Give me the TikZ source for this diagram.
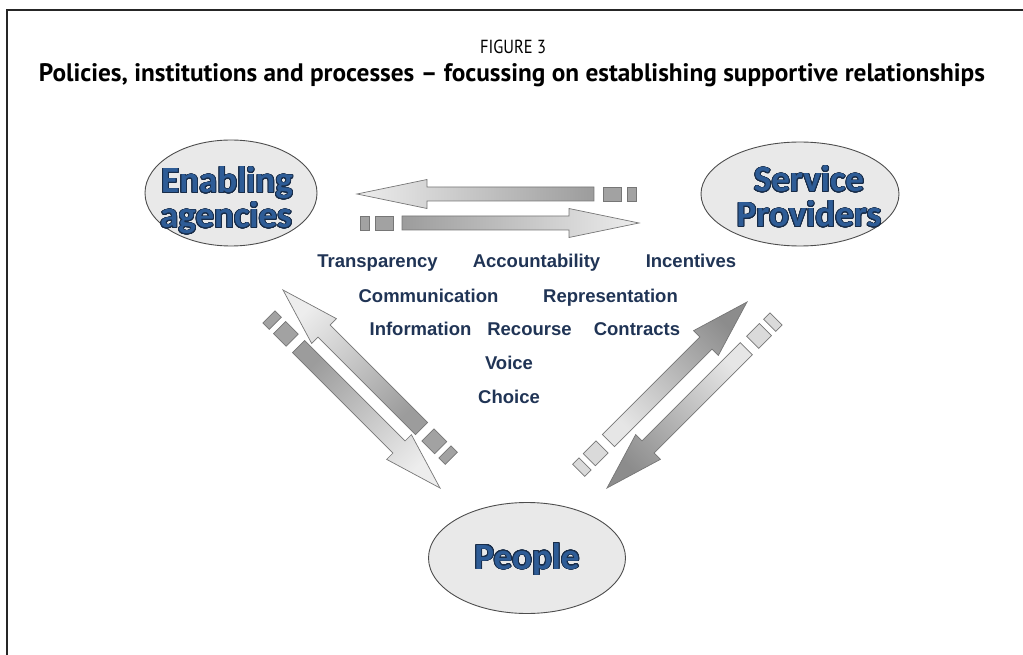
\documentclass[tikz,border=0pt]{standalone}
\usepackage{fontspec}
\setmainfont{Liberation Sans}
\newfontfamily\titlefont{PT Sans}
\newfontfamily\labelfont{Carlito}
\usepackage{contour}
\contourlength{0.85pt}
\contournumber{24}
\usetikzlibrary{shapes.geometric}
\definecolor{bubblefill}{HTML}{E9E9E9}
\definecolor{bubbleline}{HTML}{4D4D4D}
\definecolor{labelblue}{RGB}{46,92,150}
\definecolor{labeledge}{RGB}{24,44,72}
\definecolor{navy}{RGB}{32,52,85}
\definecolor{arrdark}{HTML}{9C9C9C}
\definecolor{arrlight}{HTML}{EDEDED}
\definecolor{arrmid}{HTML}{A2A2A2}
\definecolor{arrdarkR}{HTML}{8C8C8C}
\definecolor{arrlightR}{HTML}{E6E6E6}
\definecolor{arrsqR}{HTML}{DADADA}
\definecolor{arrline}{HTML}{767676}
\newdimen\bax \newdimen\bay \newdimen\bbx \newdimen\bby
% #1 tail, #2 tip, #3 shaft half width, #4 head half width, #5 head length,
% #6 tail colour, #7 tip colour, #8 colour of the dashes
\newcommand\blockarrow[8]{%
  \pgfextractx{\bax}{\pgfpointanchor{#1}{center}}%
  \pgfextracty{\bay}{\pgfpointanchor{#1}{center}}%
  \pgfextractx{\bbx}{\pgfpointanchor{#2}{center}}%
  \pgfextracty{\bby}{\pgfpointanchor{#2}{center}}%
  \pgfmathsetmacro\bang{atan2(\bby-\bay,\bbx-\bax)}%
  \pgfmathsetmacro\bshang{\bang-90}%
  \pgfmathsetmacro\blen{veclen(\bbx-\bax,\bby-\bay)}%
  \begin{scope}[shift={(#1)},rotate=\bang]
    \draw[arrowedge,bottom color=#6,top color=#7,shading angle=\bshang]
      (0,-#3) -- ({\blen-#5},-#3) -- ({\blen-#5},-#4) -- (\blen,0)
      -- ({\blen-#5},#4) -- ({\blen-#5},#3) -- (0,#3) -- cycle;
    \draw[arrowedge,fill=#8] (-9,-#3) rectangle (-27,#3);
    \draw[arrowedge,fill=#8] (-33,-#3) rectangle (-42,#3);
  \end{scope}}
\begin{document}
\begin{tikzpicture}[x=1pt,y=1pt,
  frameline/.style={line width=1.6pt,draw=black!85},
  bubble/.style={ellipse,draw=bubbleline,line width=0.9pt,fill=bubblefill,inner sep=0pt},
  bubbletext/.style={anchor=base,inner sep=0pt,text=labelblue,font=\labelfont\bfseries\fontsize{37}{37}\selectfont},
  keyword/.style={anchor=base,inner sep=0pt,text=navy,font=\bfseries\fontsize{18.5}{20}\selectfont},
  arrowedge/.style={draw=arrline,line width=0.7pt,line join=miter}]
\useasboundingbox (0,0) rectangle (1023,-655);
% frame
\coordinate (fbl) at (7,-656);
\coordinate (ftl) at (7,-10);
\coordinate (ftr) at (1024,-10);
\draw[frameline] (fbl) -- (ftl) -- (ftr);
% titles
\node[anchor=base,inner sep=0pt] (fig) at (513,-54)
  {\resizebox{66pt}{13.5pt}{\titlefont FIGURE 3}};
\node[anchor=base,inner sep=0pt] (title) at (512,-82)
  {\resizebox{946pt}{!}{\titlefont\bfseries Policies, institutions and processes – focussing on establishing supportive relationships}};
% bubbles
\node[bubble,minimum width=172pt,minimum height=106pt] (ea) at (231,-193) {};
\node[bubble,minimum width=198pt,minimum height=104pt] (sp) at (800,-194) {};
\node[bubble,minimum width=197pt,minimum height=111pt] (pp) at (527,-558) {};
\node[bubbletext] (ea1) at (227,-193) {\contour{labeledge}{Enabling}};
\node[bubbletext] (ea2) at (226,-228) {\contour{labeledge}{agencies}};
\node[bubbletext] (sp1) at (809,-192) {\contour{labeledge}{Service}};
\node[bubbletext] (sp2) at (809,-227) {\contour{labeledge}{Providers}};
\node[bubbletext] (pp1) at (527,-569) {\contour{labeledge}{People}};
% key words
\node[keyword] (k1) at (377.5,-268) {Transparency};
\node[keyword] (k2) at (536.5,-268) {Accountability};
\node[keyword] (k3) at (691,-268) {Incentives};
\node[keyword] (k4) at (428.5,-302) {Communication};
\node[keyword] (k5) at (610.5,-302) {Representation};
\node[keyword] (k6) at (420.5,-335) {Information};
\node[keyword] (k7) at (529.5,-335) {Recourse};
\node[keyword] (k8) at (637,-335) {Contracts};
\node[keyword] (k9) at (509,-369) {Voice};
\node[keyword] (k10) at (509,-403) {Choice};
% arrow ends
\coordinate (h1tail) at (594,-194);
\coordinate (h1tip) at (357,-194);
\coordinate (h2tail) at (402,-223);
\coordinate (h2tip) at (639,-223);
\coordinate (atail) at (421.6,-428.6);
\coordinate (atip) at (283,-290);
\coordinate (btail) at (298.6,-346.6);
\coordinate (btip) at (440,-488);
\coordinate (ctail) at (608.4,-440.6);
\coordinate (ctip) at (747,-302);
\coordinate (dtail) at (746.3,-348.7);
\coordinate (dtip) at (607,-488);
\blockarrow{h1tail}{h1tip}{7}{14.5}{70}{arrdark}{arrlight}{arrmid}
\blockarrow{h2tail}{h2tip}{7}{14.5}{70}{arrdark}{arrlight}{arrmid}
\blockarrow{atail}{atip}{8.5}{17.5}{58}{arrdark}{arrlight}{arrmid}
\blockarrow{btail}{btip}{8.5}{17.5}{58}{arrdark}{arrlight}{arrmid}
\blockarrow{ctail}{ctip}{8.5}{17.5}{58}{arrlightR}{arrdarkR}{arrsqR}
\blockarrow{dtail}{dtip}{8.5}{17.5}{58}{arrlightR}{arrdarkR}{arrsqR}
\end{tikzpicture}
\end{document}
